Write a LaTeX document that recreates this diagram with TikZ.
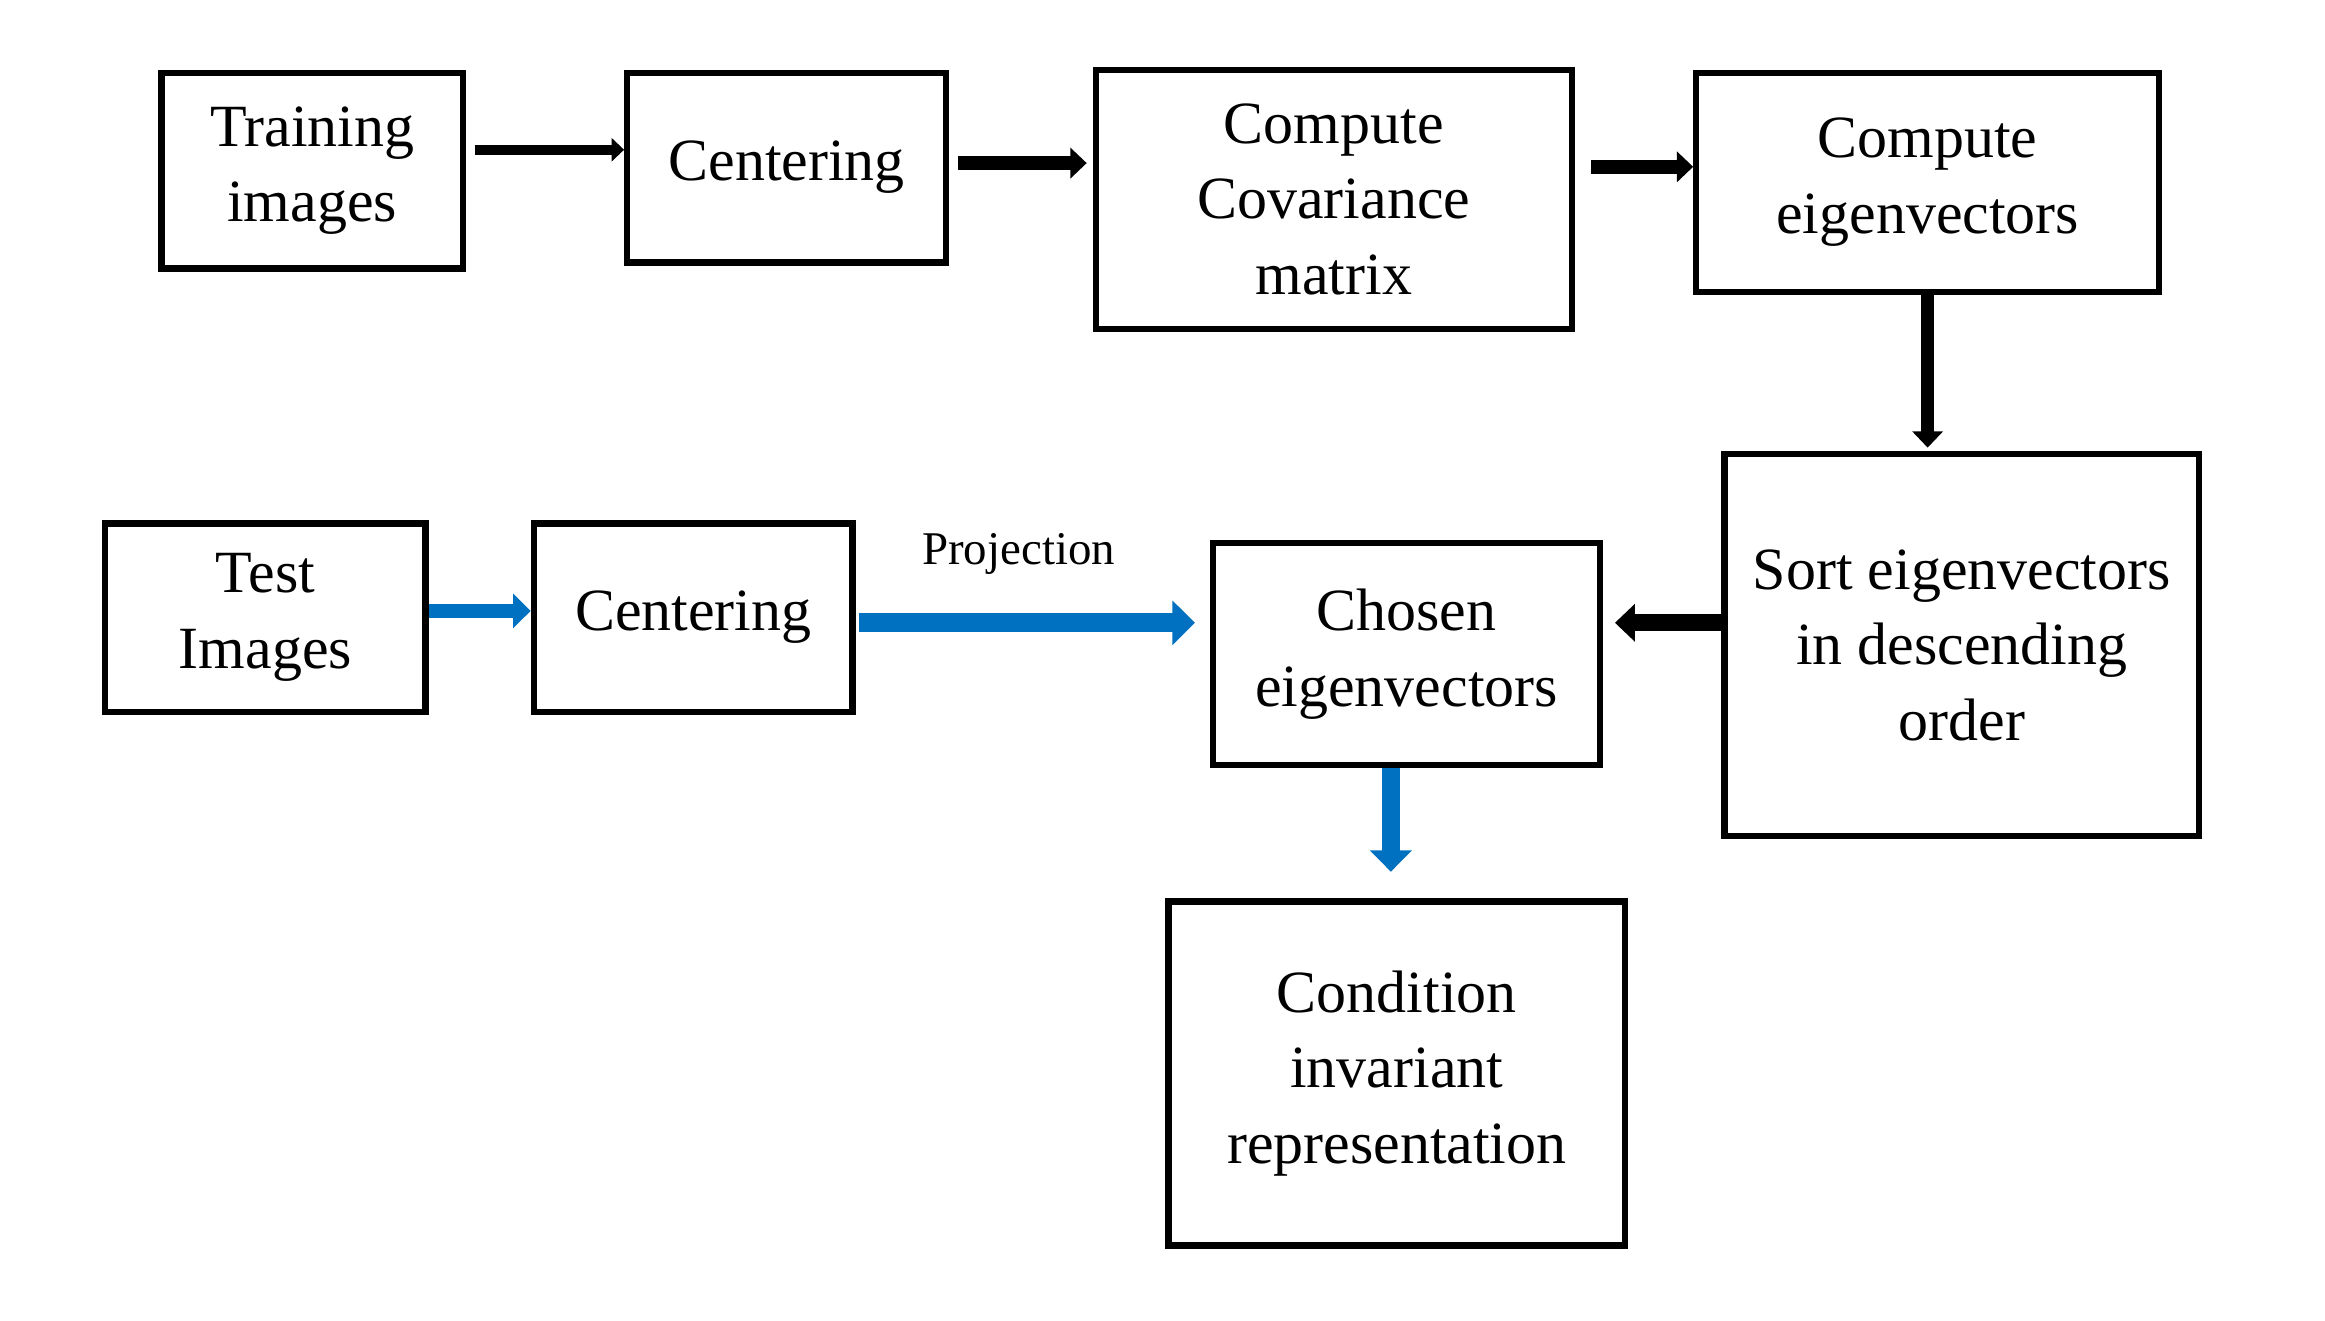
\documentclass[tikz,border=0pt]{standalone}
\usepackage{fontspec}
\setmainfont{Liberation Serif}
\usepackage{xcolor}
\usetikzlibrary{arrows.meta}
\definecolor{vblack}{HTML}{000000}
\definecolor{vblue}{HTML}{0070C0}
\definecolor{vedge}{HTML}{41719C}

\begin{document}
\begin{tikzpicture}[
		box/.style = {draw = vblack, line width = 1.2pt, align = center, inner sep = 0pt, font = \fontsize{11.5}{14.5}\selectfont},
		blk/.style = {draw = vblack, -{Triangle[length = 0pt 1.2, width = 0pt 2.2]}},
		blu/.style = {draw = vblue, -{Triangle[length = 0pt 1.2, width = 0pt 2.3]}},
		lbl/.style = {font = \fontsize{9}{11}\selectfont, inner sep = 1pt}
	]
		\useasboundingbox (0,0) rectangle (15.68,-8.908);
		\node[box, minimum width = 2.03cm, minimum height = 1.32cm] (train) at (2.105,-1.15) {Training\\images};
		\node[box, minimum width = 2.15cm, minimum height = 1.28cm] (cent1) at (5.305,-1.13) {Centering};
		\node[box, minimum width = 3.21cm, minimum height = 1.75cm] (cov) at (8.995,-1.345) {Compute\\Covariance\\matrix};
		\node[box, minimum width = 3.12cm, minimum height = 1.48cm] (eig) at (13.0,-1.23) {Compute\\eigenvectors};
		\node[box, minimum width = 3.20cm, minimum height = 2.58cm] (sort) at (13.23,-4.35) {Sort eigenvectors\\in descending\\order};
		\node[box, minimum width = 2.61cm, minimum height = 1.50cm] (chosen) at (9.485,-4.41) {Chosen\\eigenvectors};
		\node[box, minimum width = 3.08cm, minimum height = 2.32cm] (cond) at (9.42,-7.24) {Condition\\invariant\\representation};
		\node[box, minimum width = 2.16cm, minimum height = 1.27cm] (test) at (1.79,-4.165) {Test\\Images};
		\node[box, minimum width = 2.15cm, minimum height = 1.27cm] (cent2) at (4.675,-4.165) {Centering};
		\draw[blk, line width = 2pt, shorten < = 0.6mm] ([yshift = 1.4mm]train.east) coordinate (a1) -- (a1 -| cent1.west);
		\draw[blk, line width = 2.6pt, shorten < = 0.6mm, shorten > = 0.4mm] ([yshift = 0.3mm]cent1.east) coordinate (a2) -- (a2 -| cov.west);
		\draw[blk, line width = 2.6pt, shorten < = 1.1mm] ([yshift = 2.2mm]cov.east) coordinate (a3) -- (a3 -| eig.west);
		\draw[blk, line width = 2.6pt, shorten > = 0.2mm] (eig.south) -- (eig.south |- sort.north);
		\draw[blk, line width = 3.2pt, shorten > = 0.8mm] ([yshift = 1.5mm]sort.west) coordinate (a4) -- (a4 -| chosen.east);
		\draw[blu, line width = 2.8pt] ([yshift = 0.45mm]test.east) coordinate (a5) -- (a5 -| cent2.west);
		\draw[blu, line width = 3.6pt, shorten < = 0.2mm, shorten > = 1mm] ([yshift = -0.35mm]cent2.east) coordinate (a6) -- node[lbl, above = 2.3mm, pos = 0.46] (proj) {Projection} (a6 -| chosen.west);
		\draw[blu, line width = 3.4pt, shorten > = 1.8mm] ([xshift = -1.05mm]chosen.south) coordinate (a7) -- (a7 |- cond.north);
	\end{tikzpicture}
\end{document}
